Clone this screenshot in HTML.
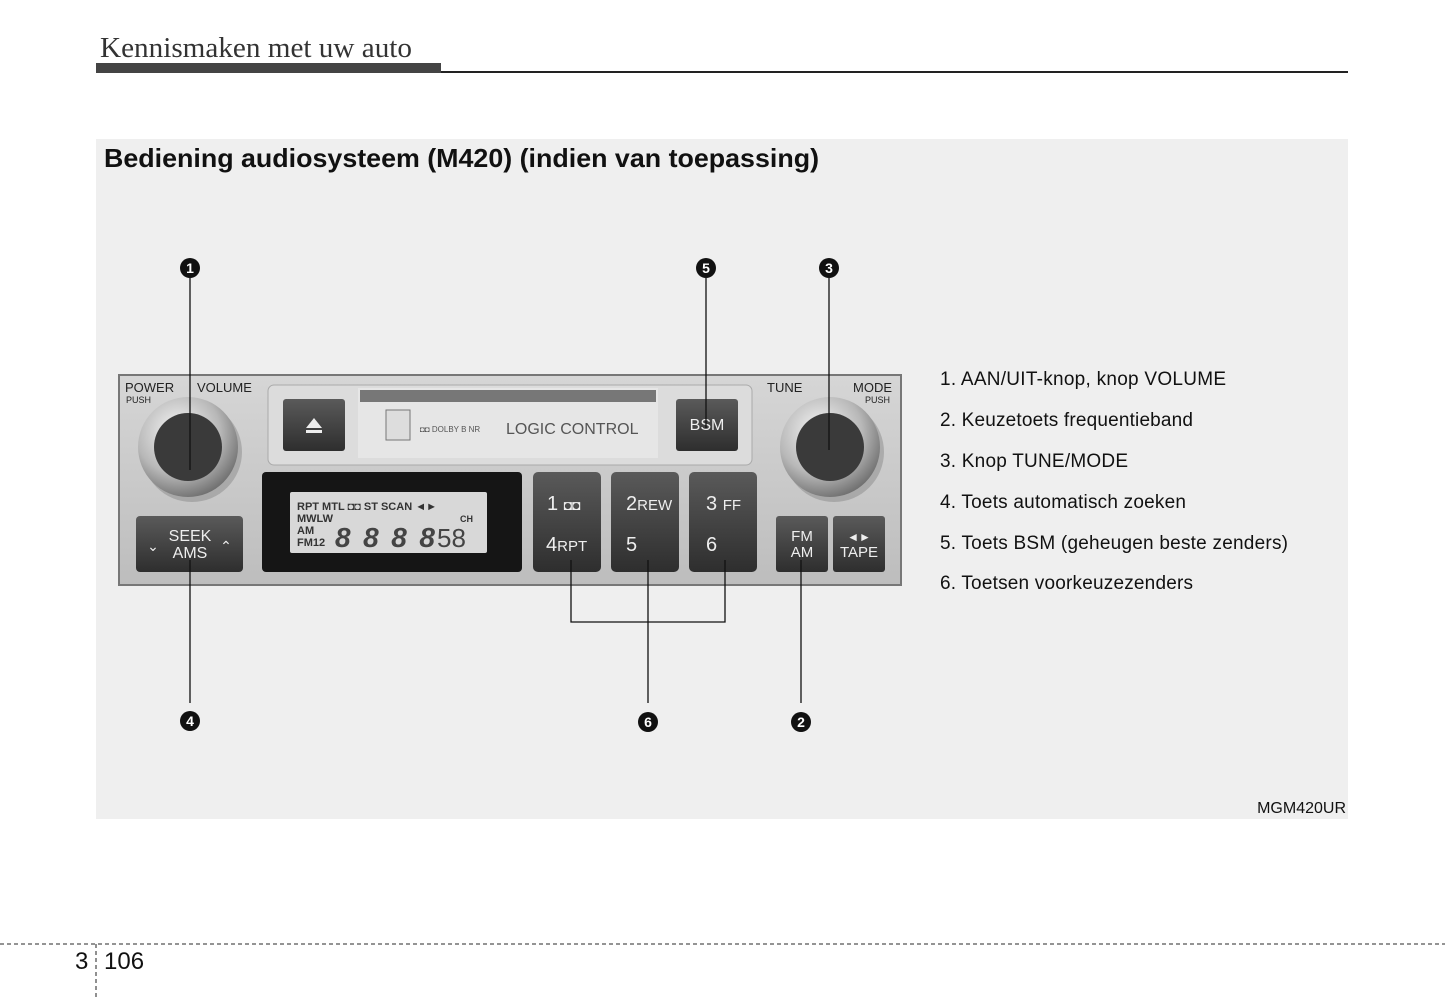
<!DOCTYPE html>
<html><head><meta charset="utf-8"><style>
html,body{margin:0;padding:0;background:#fff;}
body{width:1445px;height:998px;position:relative;overflow:hidden;}
svg{position:absolute;left:0;top:0;}
</style></head><body>
<svg width="1445" height="998" viewBox="0 0 1445 998" font-family="Liberation Sans, Arial, sans-serif">
<defs>
<radialGradient id="knob" cx="0.4" cy="0.35" r="0.7">
<stop offset="0" stop-color="#f8f8f8"/><stop offset="0.6" stop-color="#b8b8b8"/><stop offset="1" stop-color="#6a6a6a"/>
</radialGradient>
<linearGradient id="btn" x1="0" y1="0" x2="0" y2="1">
<stop offset="0" stop-color="#5a5a5a"/><stop offset="1" stop-color="#2e2e2e"/>
</linearGradient>
<linearGradient id="body" x1="0" y1="0" x2="0" y2="1">
<stop offset="0" stop-color="#d6d6d6"/><stop offset="1" stop-color="#bdbdbd"/>
</linearGradient>
</defs>
<text x="100" y="57" font-family="Liberation Serif, serif" font-size="28" fill="#333" textLength="312" lengthAdjust="spacingAndGlyphs">Kennismaken met uw auto</text>
<rect x="96" y="63" width="345" height="10" fill="#444"/>
<rect x="441" y="71" width="907" height="2" fill="#222"/>
<rect x="96" y="139" width="1252" height="680" fill="#efefef"/>
<text x="104" y="167" font-size="26" font-weight="bold" fill="#111" textLength="715" lengthAdjust="spacingAndGlyphs">Bediening audiosysteem (M420) (indien van toepassing)</text>
<rect x="119" y="375" width="782" height="210" fill="url(#body)" stroke="#777" stroke-width="2"/>
<rect x="268" y="385" width="484" height="80" rx="6" fill="#dcdcdc" stroke="#aaa"/>
<rect x="358" y="388" width="300" height="70" fill="#e6e6e6"/>
<rect x="360" y="390" width="296" height="12" fill="#777"/>
<rect x="386" y="410" width="24" height="30" fill="#ddd" stroke="#777"/>
<text x="420" y="432" font-size="8" fill="#555">◘◘ DOLBY B NR</text>
<text x="506" y="434" font-size="16" fill="#555">LOGIC CONTROL</text>
<rect x="283" y="399" width="62" height="52" rx="3" fill="url(#btn)"/>
<polygon points="306,428 322,428 314,418" fill="#eee"/><rect x="306" y="430" width="16" height="3" fill="#eee"/>
<rect x="676" y="399" width="62" height="52" rx="3" fill="url(#btn)"/>
<text x="707" y="430" font-size="16" fill="#eee" text-anchor="middle">BSM</text>
<text x="125" y="392" font-size="13" fill="#222">POWER</text>
<text x="126" y="403" font-size="9" fill="#222">PUSH</text>
<text x="197" y="392" font-size="13" fill="#222">VOLUME</text>
<text x="767" y="392" font-size="13" fill="#222">TUNE</text>
<text x="853" y="392" font-size="13" fill="#222">MODE</text>
<text x="865" y="403" font-size="9" fill="#222">PUSH</text>
<circle cx="192" cy="452" r="50" fill="#8a8a8a" opacity="0.5"/>
<circle cx="188" cy="447" r="50" fill="url(#knob)"/>
<circle cx="188" cy="447" r="34" fill="#3a3a3a"/>
<circle cx="834" cy="452" r="50" fill="#8a8a8a" opacity="0.5"/>
<circle cx="830" cy="447" r="50" fill="url(#knob)"/>
<circle cx="830" cy="447" r="34" fill="#3a3a3a"/>
<rect x="262" y="472" width="260" height="100" rx="4" fill="#151515"/>
<rect x="290" y="492" width="197" height="61" rx="2" fill="#d8d8d8"/>
<text x="297" y="510" font-size="11" font-weight="bold" fill="#333">RPT MTL ◘◘ ST SCAN ◄►</text>
<text x="297" y="522" font-size="11" font-weight="bold" fill="#333">MWLW</text>
<text x="297" y="534" font-size="11" font-weight="bold" fill="#333">AM</text>
<text x="297" y="546" font-size="11" font-weight="bold" fill="#333">FM12</text>
<text x="460" y="522" font-size="9" font-weight="bold" fill="#333">CH</text>
<text x="335" y="547" font-size="28" font-style="italic" font-weight="bold" fill="#444" textLength="100">8888</text>
<text x="437" y="547" font-size="26" fill="#444">58</text>
<g fill="#eee" font-size="20">
<rect x="533" y="472" width="68" height="100" rx="5" fill="url(#btn)"/>
<rect x="611" y="472" width="68" height="100" rx="5" fill="url(#btn)"/>
<rect x="689" y="472" width="68" height="100" rx="5" fill="url(#btn)"/>
<text x="547" y="510">1 <tspan font-size="14">◘◘</tspan></text>
<text x="546" y="551">4<tspan font-size="15">RPT</tspan></text>
<text x="626" y="510">2<tspan font-size="15">REW</tspan></text>
<text x="626" y="551">5</text>
<text x="706" y="510">3 <tspan font-size="15">FF</tspan></text>
<text x="706" y="551">6</text>
</g>
<rect x="136" y="516" width="107" height="56" rx="4" fill="url(#btn)"/>
<text x="190" y="541" font-size="16" fill="#eee" text-anchor="middle">SEEK</text>
<text x="190" y="558" font-size="16" fill="#eee" text-anchor="middle">AMS</text>
<text x="153" y="551" font-size="14" fill="#eee" text-anchor="middle">⌄</text>
<text x="226" y="551" font-size="14" fill="#eee" text-anchor="middle">⌃</text>
<rect x="776" y="516" width="52" height="56" rx="3" fill="url(#btn)"/>
<rect x="833" y="516" width="52" height="56" rx="3" fill="url(#btn)"/>
<text x="802" y="541" font-size="15" fill="#eee" text-anchor="middle">FM</text>
<text x="802" y="557" font-size="15" fill="#eee" text-anchor="middle">AM</text>
<text x="859" y="541" font-size="12" fill="#eee" text-anchor="middle">◄►</text>
<text x="859" y="557" font-size="15" fill="#eee" text-anchor="middle">TAPE</text>
<g stroke="#111" stroke-width="1.3" fill="none">
<line x1="190" y1="278" x2="190" y2="470"/>
<line x1="190" y1="560" x2="190" y2="703"/>
<line x1="706" y1="278" x2="706" y2="428"/>
<line x1="829" y1="278" x2="829" y2="450"/>
<line x1="801" y1="560" x2="801" y2="703"/>
<polyline points="571,560 571,622 725,622 725,560"/>
<line x1="648" y1="560" x2="648" y2="703"/>
</g>
<g font-size="14" font-weight="bold" fill="#fff" text-anchor="middle">
<circle cx="190" cy="268" r="10" fill="#111"/><text x="190" y="273">1</text>
<circle cx="706" cy="268" r="10" fill="#111"/><text x="706" y="273">5</text>
<circle cx="829" cy="268" r="10" fill="#111"/><text x="829" y="273">3</text>
<circle cx="190" cy="721" r="10" fill="#111"/><text x="190" y="726">4</text>
<circle cx="648" cy="722" r="10" fill="#111"/><text x="648" y="727">6</text>
<circle cx="801" cy="722" r="10" fill="#111"/><text x="801" y="727">2</text>
</g>
<g font-size="19" fill="#111">
<text x="940" y="385" textLength="286">1. AAN/UIT-knop, knop VOLUME</text>
<text x="940" y="426" textLength="253">2. Keuzetoets frequentieband</text>
<text x="940" y="467" textLength="188">3. Knop TUNE/MODE</text>
<text x="940" y="508" textLength="246">4. Toets automatisch zoeken</text>
<text x="940" y="549" textLength="348">5. Toets BSM (geheugen beste zenders)</text>
<text x="940" y="589" textLength="253">6. Toetsen voorkeuzezenders</text>
</g>
<text x="1346" y="813" font-size="16" fill="#111" text-anchor="end">MGM420UR</text>
<line x1="0" y1="944" x2="1445" y2="944" stroke="#555" stroke-width="1.3" stroke-dasharray="4,3"/>
<line x1="96" y1="944" x2="96" y2="998" stroke="#555" stroke-width="1.3" stroke-dasharray="4,3"/>
<text x="75" y="969" font-size="24" fill="#111">3</text>
<text x="104" y="969" font-size="24" fill="#111">106</text>
</svg>
</body></html>
